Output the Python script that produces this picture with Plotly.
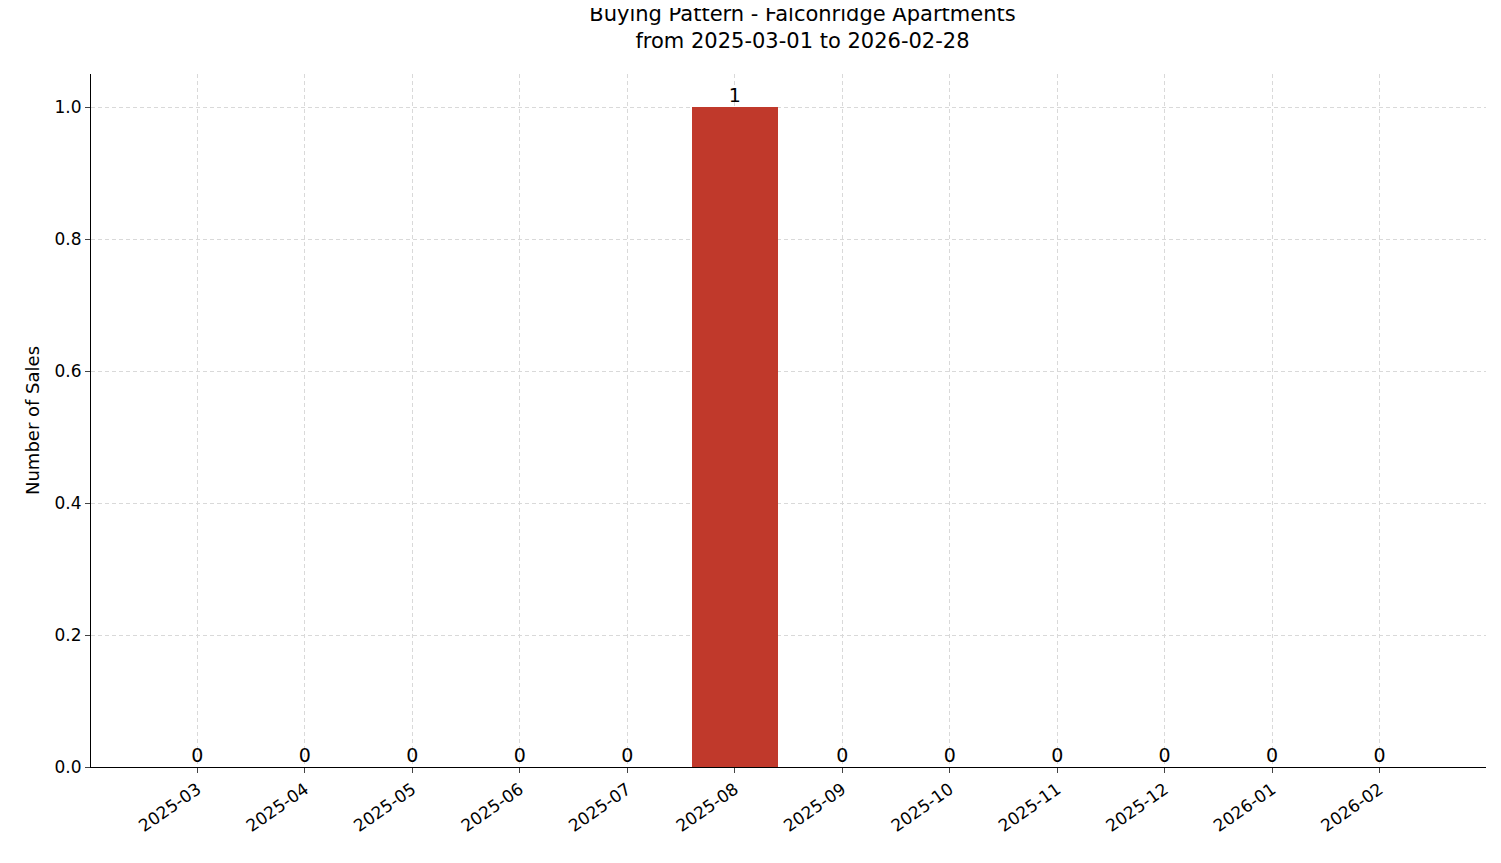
import plotly.graph_objects as go

months = ["2025-03","2025-04","2025-05","2025-06","2025-07","2025-08",
          "2025-09","2025-10","2025-11","2025-12","2026-01","2026-02"]
sales = [0,0,0,0,0,1,0,0,0,0,0,0]

fig = go.Figure()
fig.add_trace(go.Bar(x=list(range(len(months))), y=sales, width=0.8,
                     marker=dict(color="#c0392b", line=dict(width=0))))
fig.add_trace(go.Scatter(x=list(range(len(months))), y=sales, mode="text",
                         text=[str(v) for v in sales], textposition="top center",
                         textfont=dict(size=19, color="black")))
fig.update_layout(
    width=1485, height=847, showlegend=False,
    plot_bgcolor="white", paper_bgcolor="white",
    font=dict(family="DejaVu Sans", size=17, color="black"),
    margin=dict(l=83, r=7, t=66, b=88),
    title=dict(text="Buying Pattern - Falconridge Apartments<br>from 2025-03-01 to 2026-02-28",
               x=0.535, xanchor="center", y=0.985, yanchor="top", font=dict(size=21)),
    bargap=0,
)
fig.update_xaxes(range=[-0.99, 11.99], tickvals=list(range(len(months))), ticktext=months,
                 tickangle=-35, showline=True, linecolor="black", ticks="outside",
                 ticklen=5, showgrid=True, gridcolor="#d9d9d9", griddash="4px,3px",
                 gridwidth=0.8, zeroline=False, tickfont=dict(size=17))
fig.update_yaxes(range=[0, 1.05], tickvals=[0,0.2,0.4,0.6,0.8,1.0],
                 ticktext=["0.0","0.2","0.4","0.6","0.8","1.0"],
                 showline=True, linecolor="black", ticks="outside", ticklen=5,
                 showgrid=True, gridcolor="#d9d9d9", griddash="4px,3px", gridwidth=0.8,
                 zeroline=False, title=dict(text="Number of Sales", font=dict(size=18), standoff=10),
                 tickfont=dict(size=17))
fig.write_html("out.html")
